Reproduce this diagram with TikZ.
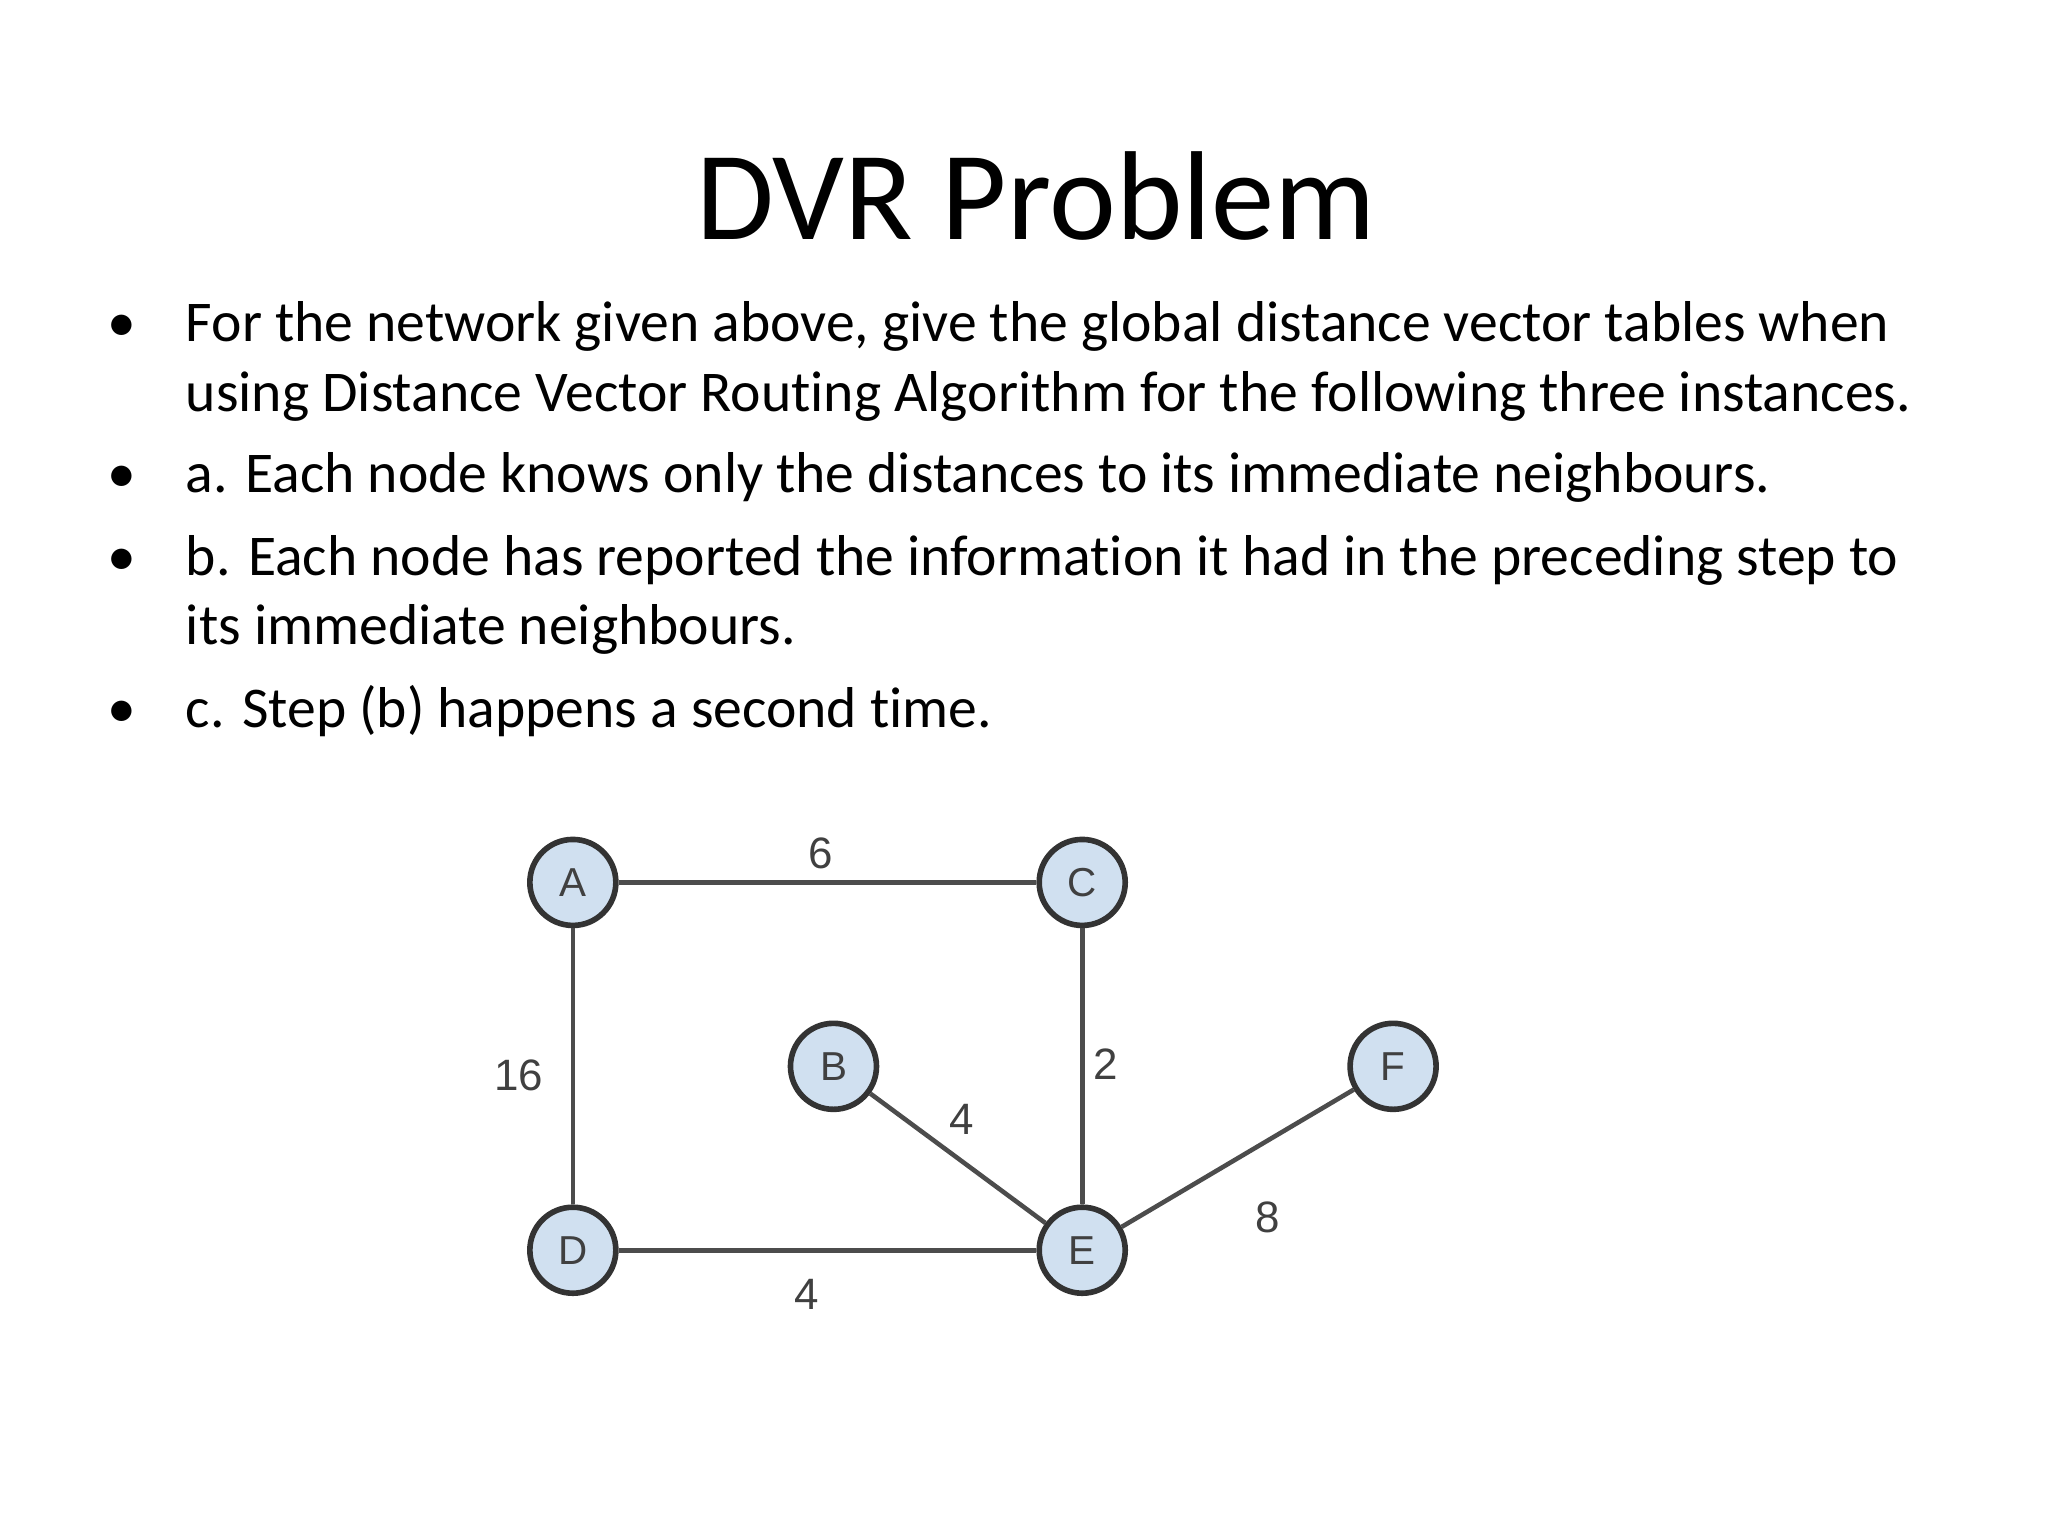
\documentclass[tikz,border=0pt]{standalone}
\usepackage{fontspec}
\setmainfont[Ligatures=NoCommon]{Carlito}
\newfontfamily\lab{Liberation Sans}
\begin{document}
\begin{tikzpicture}[x=0.01323cm,y=-0.01323cm,
  vtx/.style={circle,draw=black!80,line width=1.6pt,fill={rgb,255:red,208;green,224;blue,240},minimum size=0.86cm,inner sep=0pt,font=\lab\fontsize{11.5}{14}\selectfont,text=black!75},
  edge/.style={draw=black!70,line width=1.3pt},
  wt/.style={font=\lab\fontsize{12.5}{15}\selectfont,text=black!75},
  txt/.style={anchor=base west,inner sep=0pt,font=\fontsize{16.4}{20}\selectfont},
  bul/.style={anchor=base,inner sep=0pt,font=\fontsize{16.4}{20}\selectfont}]
\useasboundingbox (0,0) rectangle (1548,1161);
\node[font=\fontsize{36}{44}\selectfont] (title) at (783,148) {DVR Problem};
\node[bul] (b1) at (92,258) {\textbullet};
\node[txt] (t1) at (140,258) {For the network given above, give the global distance vector tables when};
\node[txt] (t2) at (140,311) {using Distance Vector Routing Algorithm for the following three instances.};
\node[bul] (b2) at (92,372) {\textbullet};
\node[txt] (t3) at (140,372) {a. Each node knows only the distances to its immediate neighbours.};
\node[bul] (b3) at (92,435) {\textbullet};
\node[txt] (t4) at (140,435) {b. Each node has reported the information it had in the preceding step to};
\node[txt] (t5) at (140,487) {its immediate neighbours.};
\node[bul] (b4) at (92,550) {\textbullet};
\node[txt] (t6) at (140,550) {c. Step (b) happens a second time.};
\node[vtx] (A) at (433,667) {A};
\node[vtx] (C) at (818,667) {C};
\node[vtx] (B) at (630,806) {B};
\node[vtx] (F) at (1053,806) {F};
\node[vtx] (D) at (433,945) {D};
\node[vtx] (E) at (818,945) {E};
\draw[edge] (A) -- (C);
\draw[edge] (A) -- (D);
\draw[edge] (C) -- (E);
\draw[edge] (B) -- (E);
\draw[edge] (D) -- (E);
\draw[edge] (E) -- (F);
\node[wt] (w1) at (620,645) {6};
\node[wt] (w2) at (392,813) {16};
\node[wt] (w3) at (836,804) {2};
\node[wt] (w4) at (727,846) {4};
\node[wt] (w5) at (958,920) {8};
\node[wt] (w6) at (610,978) {4};
\end{tikzpicture}
\end{document}
